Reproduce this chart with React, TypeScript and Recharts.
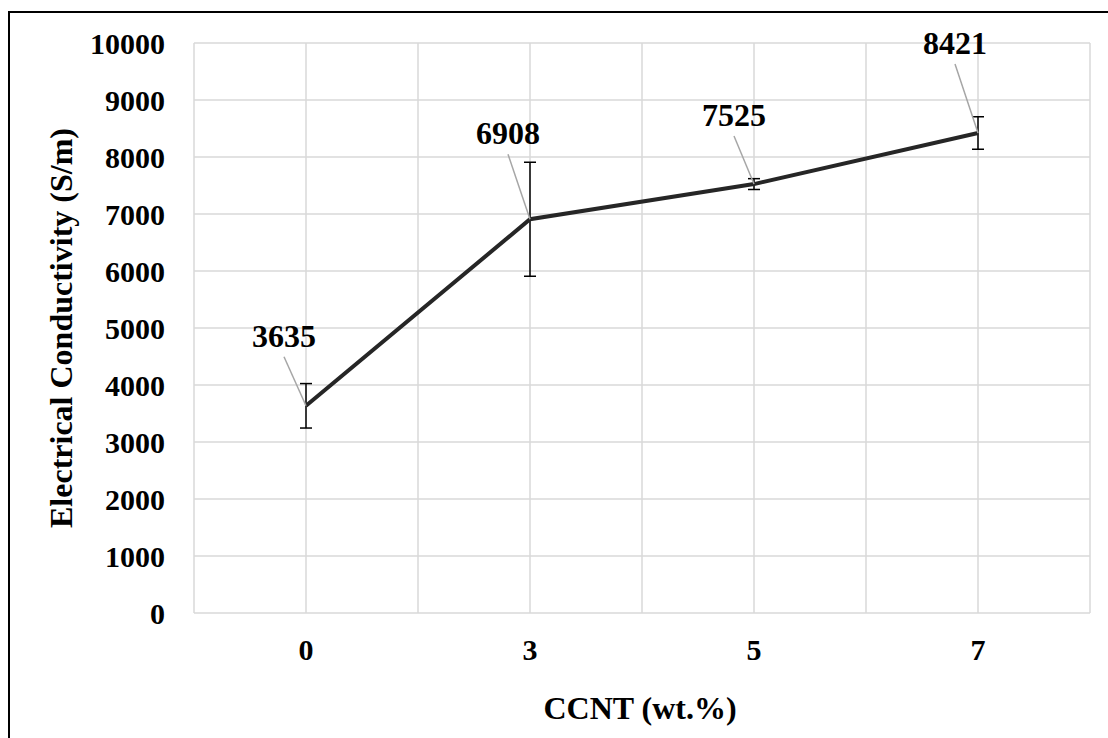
import { LineChart, Line, XAxis, YAxis, CartesianGrid, ErrorBar, LabelList } from 'recharts'

const categories = ['0', '3', '5', '7']
const conductivity = [3635, 6908, 7525, 8421]
const deviation = [390, 1000, 95, 285]
const yTicks = [0, 1000, 2000, 3000, 4000, 5000, 6000, 7000, 8000, 9000, 10000]
const xGridTicks = [0, 0.5, 1, 1.5, 2, 2.5, 3, 3.5, 4]

const data = categories.map((c, i) => ({
  pos: i + 0.5,
  name: c,
  value: conductivity[i],
  err: deviation[i],
}))

// hand-placed label nudges (excel style leader lines)
const labelNudge = [
  { dx: -22, dy: -59 },
  { dx: -22, dy: -75 },
  { dx: -20, dy: -58 },
  { dx: -23, dy: -79 },
]

const FONT = '"Liberation Serif", "Times New Roman", serif'

function PointLabel(props: any) {
  const { x, y, value, index } = props
  const n = labelNudge[index] || { dx: 0, dy: -20 }
  const tx = x + n.dx
  const ty = y + n.dy
  return (
    <g>
      <line x1={tx} y1={ty + 10} x2={x} y2={y} stroke="#a6a6a6" strokeWidth={1.5} />
      <text x={tx} y={ty} textAnchor="middle" fontFamily={FONT} fontWeight="bold" fontSize={32} fill="#000">
        {value}
      </text>
    </g>
  )
}

export default function App() {
  return (
    <div style={{ position: 'fixed', left: 0, top: 0, width: 1108, height: 738, overflow: 'hidden', background: '#fff' }}>
      <div style={{ position: 'absolute', left: 8, top: 11, width: 1120, height: 760, border: '2px solid #000', boxSizing: 'border-box' }} />
      <div style={{ position: 'absolute', left: 0, top: 0 }}>
        <LineChart width={1108} height={738} data={data} margin={{ top: 43, right: 18, bottom: 65, left: 74 }}>
          <CartesianGrid stroke="#d9d9d9" strokeWidth={1.5} />
          <XAxis
            dataKey="pos"
            type="number"
            domain={[0, 4]}
            ticks={xGridTicks}
            interval={0}
            height={60}
            axisLine={false}
            tickLine={false}
            tickSize={0}
            tickMargin={26}
            tickFormatter={(v: number) => {
              const i = v - 0.5
              return Number.isInteger(i) ? categories[i] : ''
            }}
            tick={{ fontFamily: FONT, fontWeight: 'bold', fontSize: 30, fill: '#000' }}
            label={{
              content: (p: any) => {
                const vb = p.viewBox
                return (
                  <text x={vb.x + vb.width / 2 - 2} y={vb.y + 106} textAnchor="middle" fontFamily={FONT} fontWeight="bold" fontSize={32} fill="#000">
                    CCNT (wt.%)
                  </text>
                )
              },
            }}
          />
          <YAxis
            type="number"
            domain={[0, 10000]}
            ticks={yTicks}
            interval={0}
            width={120}
            axisLine={false}
            tickLine={false}
            tickSize={0}
            tickMargin={29}
            tick={{ fontFamily: FONT, fontWeight: 'bold', fontSize: 30, fill: '#000' }}
            label={{
              content: (p: any) => {
                const vb = p.viewBox
                const cx = 72
                const cy = vb.y + vb.height / 2
                return (
                  <text x={cx} y={cy} transform={`rotate(-90, ${cx}, ${cy})`} textAnchor="middle" fontFamily={FONT} fontWeight="bold" fontSize={32} fill="#000">
                    Electrical Conductivity (S/m)
                  </text>
                )
              },
            }}
          />
          <Line
            type="linear"
            dataKey="value"
            stroke="#262626"
            strokeWidth={4}
            dot={false}
            activeDot={false}
            isAnimationActive={false}
          >
            <ErrorBar dataKey="err" direction="y" width={6} stroke="#000" strokeWidth={1.5} isAnimationActive={false} />
            <LabelList dataKey="value" content={PointLabel} />
          </Line>
        </LineChart>
      </div>
    </div>
  )
}
